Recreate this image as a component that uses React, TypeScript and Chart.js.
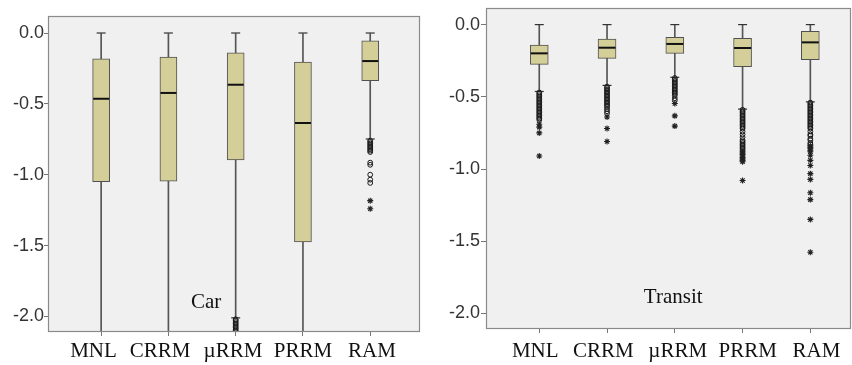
import React, { useEffect, useRef } from 'react';
import { Chart, registerables } from 'chart.js';

Chart.register(...registerables);

const categories = ['MNL', 'CRRM', 'µRRM', 'PRRM', 'RAM'];
const yTickValues = [-2, -1.5, -1, -0.5, 0];

// ---- Car panel ----
const carWhiskerHigh = [0, 0, 0, 0, 0];
const carBoxTop = [-0.183, -0.17, -0.14, -0.205, -0.056];
const carMedian = [-0.464, -0.423, -0.365, -0.635, -0.198];
const carBoxBottom = [-1.05, -1.045, -0.896, -1.475, -0.337];
const carWhiskerLow = [-2.3, -2.3, -2.01, -2.3, -0.748];
const carOutliers = [
  [],
  [],
  [-2.02, -2.03, -2.04, -2.05, -2.06, -2.07, -2.08, -2.09, -2.1, -2.11],
  [],
  [-0.76, -0.77, -0.78, -0.79, -0.8, -0.81, -0.82, -0.83, -0.84, -0.915, -0.93, -1.0, -1.035, -1.058],
];
const carExtremes = [[], [], [], [], [-1.183, -1.24]];

// ---- Transit panel ----
const transitWhiskerHigh = [0, 0, 0, 0, 0];
const transitBoxTop = [-0.141, -0.1, -0.088, -0.095, -0.046];
const transitMedian = [-0.199, -0.16, -0.134, -0.162, -0.123];
const transitBoxBottom = [-0.275, -0.234, -0.199, -0.292, -0.243];
const transitWhiskerLow = [-0.463, -0.421, -0.365, -0.585, -0.535];
const transitOutliers = [
  [-0.47, -0.48, -0.49, -0.5, -0.51, -0.52, -0.53, -0.54, -0.55, -0.56, -0.57, -0.58, -0.59, -0.6, -0.61, -0.62, -0.63, -0.64, -0.65, -0.66],
  [-0.43, -0.44, -0.45, -0.46, -0.47, -0.48, -0.49, -0.5, -0.51, -0.52, -0.53, -0.54, -0.55, -0.56, -0.57, -0.585, -0.6, -0.615],
  [-0.37, -0.38, -0.39, -0.4, -0.41, -0.42, -0.43, -0.44, -0.45, -0.46, -0.47, -0.48, -0.49, -0.51, -0.525],
  [-0.59, -0.6, -0.61, -0.62, -0.63, -0.64, -0.65, -0.66, -0.67, -0.68, -0.69, -0.7, -0.71, -0.72, -0.74, -0.76, -0.78, -0.8, -0.81, -0.82, -0.83, -0.84, -0.85, -0.86, -0.87],
  [-0.54, -0.55, -0.56, -0.57, -0.58, -0.59, -0.6, -0.61, -0.62, -0.63, -0.64, -0.65, -0.66, -0.67, -0.68, -0.69, -0.7, -0.71, -0.72, -0.74, -0.76, -0.77, -0.79, -0.8, -0.82, -0.83],
];
const transitExtremes = [
  [-0.69, -0.71, -0.75, -0.91],
  [-0.64, -0.72, -0.81],
  [-0.546, -0.632, -0.703],
  [-0.88, -0.89, -0.9, -0.91, -0.92, -0.93, -0.94, -0.95, -1.08],
  [-0.84, -0.85, -0.86, -0.87, -0.88, -0.905, -0.94, -0.976, -1.032, -1.072, -1.164, -1.212, -1.349, -1.576],
];

const carPanel = {
  left: 0, width: 425,
  padTop: 16, padRight: 5,
  yAxisWidth: 48, xAxisHeight: 33,
  tickLen: 4, yPad: 0, xPad: 3,
  yMin: -2.11, yMax: 0.12,
  xMin: -0.79, xMax: 4.74,
  boxWidth: 17,
  labelAt: [-0.114, 0.875, 1.96, 3.0, 4.026],
  label: 'Car', labelX: 1.56, labelY: -1.905,
  high: carWhiskerHigh, top: carBoxTop, median: carMedian, bottom: carBoxBottom, low: carWhiskerLow,
  outliers: carOutliers, extremes: carExtremes,
};

const transitPanel = {
  left: 430, width: 422,
  padTop: 8, padRight: 1,
  yAxisWidth: 56, xAxisHeight: 36,
  tickLen: 5, yPad: 1, xPad: 6,
  yMin: -2.108, yMax: 0.115,
  xMin: -0.786, xMax: 4.6,
  boxWidth: 18,
  labelAt: [-0.059, 0.944, 2.043, 3.075, 4.09],
  label: 'Transit', labelX: 1.976, labelY: -1.889,
  high: transitWhiskerHigh, top: transitBoxTop, median: transitMedian, bottom: transitBoxBottom, low: transitWhiskerLow,
  outliers: transitOutliers, extremes: transitExtremes,
};

const zeroPad = () => ({ left: 0, top: 0, right: 0, bottom: 0 });

function buildChart(canvas: HTMLCanvasElement, p: any) {
  const idx = categories.map((_, i) => i);
  const whiskers = idx.map((i) => ({ x: i, y: [p.low[i], p.high[i]] }));
  const boxes = idx.map((i) => ({ x: i, y: [p.bottom[i], p.top[i]] }));
  const medians = idx.map((i) => ({ x: i, y: p.median[i] }));
  const caps = idx.flatMap((i) => [{ x: i, y: p.high[i] }, { x: i, y: p.low[i] }]);
  const outl = idx.flatMap((i) => p.outliers[i].map((v: number) => ({ x: i, y: v })));
  const ext = idx.flatMap((i) => p.extremes[i].map((v: number) => ({ x: i, y: v })));

  const framePlugin = {
    id: 'frame',
    beforeDraw(chart: any) {
      const { ctx, chartArea: a } = chart;
      ctx.save();
      ctx.fillStyle = '#f0f0f0';
      ctx.fillRect(a.left, a.top, a.right - a.left, a.bottom - a.top);
      ctx.restore();
    },
    afterDraw(chart: any) {
      const { ctx, chartArea: a } = chart;
      ctx.save();
      ctx.strokeStyle = '#8a8a8a';
      ctx.lineWidth = 1.2;
      ctx.strokeRect(Math.round(a.left) + 0.5, Math.round(a.top) + 0.5, Math.round(a.right - a.left) - 1, Math.round(a.bottom - a.top) - 1);
      ctx.fillStyle = '#111';
      ctx.font = '21px "Liberation Serif", "Times New Roman", serif';
      ctx.textAlign = 'center';
      ctx.textBaseline = 'middle';
      ctx.fillText(p.label, chart.scales.x.getPixelForValue(p.labelX), chart.scales.y.getPixelForValue(p.labelY));
      ctx.restore();
    },
  };

  const fixPad = (s: any) => {
    s.paddingLeft = 0; s.paddingRight = 0; s.paddingTop = 0; s.paddingBottom = 0;
    s.getPadding = zeroPad;
  };

  return new Chart(canvas, {
    type: 'bar',
    data: {
      datasets: [
        { type: 'bar', data: whiskers as any, barThickness: 1, backgroundColor: '#555', borderWidth: 0, grouped: false, order: 5, clip: 0 } as any,
        { type: 'bar', data: boxes as any, barThickness: p.boxWidth, backgroundColor: '#d4cf99', borderColor: '#505050', borderWidth: 1, borderSkipped: false, grouped: false, order: 4, clip: 0 } as any,
        { type: 'scatter', data: medians, pointStyle: 'line', pointRadius: p.boxWidth / 2 - 0.5, borderColor: '#111', borderWidth: 2, order: 3, clip: 0 } as any,
        { type: 'scatter', data: caps, pointStyle: 'line', pointRadius: 4.5, borderColor: '#333', borderWidth: 1.2, order: 3, clip: 0 } as any,
        { type: 'scatter', data: outl, pointStyle: 'circle', pointRadius: 2.4, borderColor: '#1a1a1a', backgroundColor: 'rgba(0,0,0,0)', borderWidth: 1, order: 2, clip: 0 } as any,
        { type: 'scatter', data: ext, pointStyle: 'star', pointRadius: 3, borderColor: '#222', borderWidth: 1.1, order: 1, clip: 0 } as any,
      ],
    },
    options: {
      animation: false,
      responsive: false,
      devicePixelRatio: 1,
      layout: { autoPadding: false, padding: { left: 0, top: p.padTop, right: p.padRight, bottom: 0 } },
      plugins: { legend: { display: false }, tooltip: { enabled: false } },
      scales: {
        x: {
          type: 'linear',
          position: 'bottom',
          min: p.xMin,
          max: p.xMax,
          bounds: 'data',
          offset: false,
          afterBuildTicks: (s: any) => { s.ticks = idx.map((v) => ({ value: v })); },
          afterFit: (s: any) => { s.height = 4; fixPad(s); },
          ticks: { display: false, autoSkip: false },
          grid: { drawOnChartArea: false, offset: false, tickLength: 4, color: '#777' },
          border: { display: false },
        },
        xl: {
          type: 'linear',
          position: 'bottom',
          min: p.xMin,
          max: p.xMax,
          bounds: 'data',
          offset: false,
          afterBuildTicks: (s: any) => { s.ticks = p.labelAt.map((v: number) => ({ value: v })); },
          afterFit: (s: any) => { s.height = p.xAxisHeight - 4; fixPad(s); },
          ticks: {
            callback: (_v: any, i: number) => categories[i],
            font: { family: '"Liberation Serif", "Times New Roman", serif', size: 21 },
            color: '#111',
            padding: p.xPad,
            maxRotation: 0,
            autoSkip: false,
          },
          grid: { display: false, drawTicks: false },
          border: { display: false },
        },
        y: {
          type: 'linear',
          min: p.yMin,
          max: p.yMax,
          bounds: 'data',
          afterBuildTicks: (s: any) => { s.ticks = yTickValues.map((v) => ({ value: v })); },
          afterFit: (s: any) => { s.width = p.yAxisWidth; fixPad(s); },
          ticks: {
            callback: (v: any) => Number(v).toFixed(1),
            font: { family: '"Liberation Sans", Arial, sans-serif', size: 18 },
            color: '#333',
            padding: p.yPad,
          },
          grid: { drawOnChartArea: false, tickLength: p.tickLen, color: '#777' },
          border: { display: false },
        },
      },
    },
    plugins: [framePlugin],
  } as any);
}

function Panel({ p }: { p: any }) {
  const ref = useRef<HTMLCanvasElement | null>(null);
  useEffect(() => {
    const chart = buildChart(ref.current as HTMLCanvasElement, p);
    return () => chart.destroy();
  }, []);
  return (
    <canvas
      ref={ref}
      width={p.width}
      height={365}
      style={{ position: 'absolute', left: p.left, top: 0, width: p.width, height: 365 }}
    />
  );
}

export default function App() {
  return (
    <div style={{ position: 'fixed', left: 0, top: 0, width: 852, height: 365, background: '#fff', overflow: 'hidden' }}>
      <Panel p={carPanel} />
      <Panel p={transitPanel} />
    </div>
  );
}
